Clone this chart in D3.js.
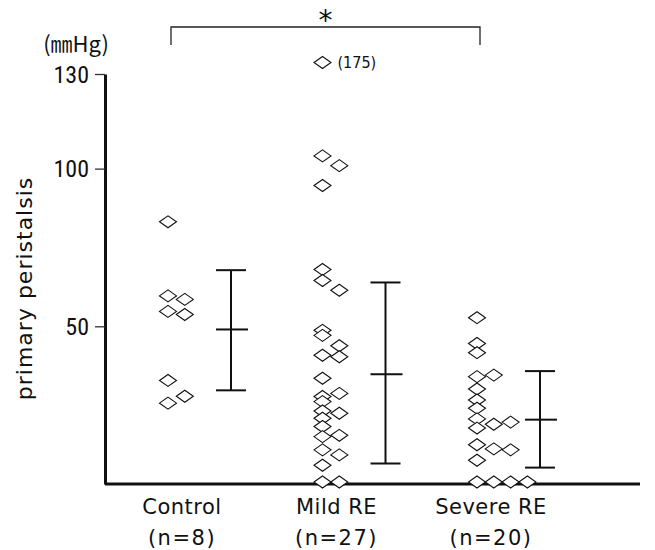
<!DOCTYPE html>
<html><head><meta charset="utf-8">
<script src="https://cdn.jsdelivr.net/npm/d3@7"></script>
<style>body{margin:0;background:#fff}svg{display:block}</style>
</head><body>
<svg id="c" width="655" height="550"></svg>
<script>
const groups = ["Control", "Mild RE", "Severe RE"];
const groupN = ["(n=8)", "(n=27)", "(n=20)"];
const yTicks = [50, 100, 130];

const controlValues = [82.5, 59, 57.9, 54.1, 53.1, 32.2, 27.2, 25];
const controlCols   = [0, 0, 1, 0, 1, 0, 1, 0];

const mildValues = [175, 103.4, 100.3, 94, 67.4, 63.9, 60.8, 48.1, 46.5, 43.2, 40.2, 39.7, 32.9, 28.1, 27.1, 25.5, 22.5, 21.8, 20.2, 17.6, 14.4, 14.8, 10.2, 8.6, 5.3, 0, 0];
const mildCols   = [0, 0, 1, 0, 0, 0, 1, 0, 0, 1, 0, 1, 0, 1, 0, 0, 0, 1, 0, 0, 0, 1, 0, 1, 0, 0, 1];

const severeValues = [52.1, 43.9, 41, 33.4, 33.9, 29.5, 26, 23.4, 20, 18.3, 19, 17.1, 11.8, 10.5, 10.2, 6.9, 0, 0, 0, 0];
const severeCols   = [0, 0, 0, 0, 1, 0, 0, 0, 0, 1, 2, 0, 0, 1, 2, 0, 0, 1, 2, 3];

// mean, upper, lower (mean ± SD)
const barMean  = [49, 34.8, 20.4];
const barUpper = [67.8, 63.9, 35.8];
const barLower = [29.7, 6.5, 5.2];

const axisBreakValue = 133;   // values above the axis top are drawn here with their value as label
const sigPair = ["Control", "Severe RE"];

const svg = d3.select("#c");
const y = d3.scaleLinear().domain([0, 130]).range([484, 74]);
const gx = d3.scalePoint().domain(groups).range([168, 477]);
const col = d3.scaleLinear().domain([0, 1]).range([0, 16.8]);
const barOffset = 63;
const axisX = 105;

const points = [];
[[controlValues, controlCols], [mildValues, mildCols], [severeValues, severeCols]].forEach(([vals, cols], gi) => {
  vals.forEach((v, i) => points.push({g: groups[gi], v, c: cols[i]}));
});

// x axis baseline
svg.append("line").attr("x1", axisX).attr("x2", 640).attr("y1", y(0)).attr("y2", y(0))
  .attr("stroke", "#111").attr("stroke-width", 3);

// y axis
const yAxis = d3.axisLeft(y).tickValues(yTicks).tickSize(10).tickSizeOuter(0).tickFormat(d3.format("d"));
const ga = svg.append("g").attr("transform", `translate(${axisX},0)`).call(yAxis);
ga.select(".domain").attr("stroke", "#111").attr("stroke-width", 3);
ga.selectAll(".tick line").attr("stroke", "#333").attr("stroke-width", 1.3);
ga.selectAll(".tick text").attr("font-family", "'Liberation Sans Narrow', 'Roboto Condensed', 'DejaVu Sans Condensed', sans-serif")
  .attr("font-size", 24).attr("fill", "#111").attr("x", -16).attr("dy", "0.34em");

// unit
svg.append("text").attr("x", 76).attr("y", 52).attr("text-anchor", "middle")
  .attr("font-family", "'Noto Sans CJK JP', sans-serif").attr("font-size", 22).attr("fill", "#111")
  .text("(㎜Hg)");

// y label
svg.append("text").attr("transform", `translate(32,${y(62)}) rotate(-90)`).attr("text-anchor", "middle")
  .attr("font-family", "'DejaVu Sans', sans-serif").attr("font-size", 22).attr("letter-spacing", 1).attr("fill", "#111")
  .text("primary peristalsis");

// error bars
const bars = svg.append("g").attr("stroke", "#111").attr("stroke-width", 2);
groups.forEach((g, i) => {
  const x = gx(g) + barOffset;
  bars.append("line").attr("x1", x).attr("x2", x).attr("y1", y(barUpper[i])).attr("y2", y(barLower[i]));
  bars.append("line").attr("x1", x - 15).attr("x2", x + 15).attr("y1", y(barUpper[i])).attr("y2", y(barUpper[i]));
  bars.append("line").attr("x1", x - 15).attr("x2", x + 15).attr("y1", y(barLower[i])).attr("y2", y(barLower[i]));
  bars.append("line").attr("x1", x - 15).attr("x2", x + 17).attr("y1", y(barMean[i])).attr("y2", y(barMean[i]));
});

// diamonds
const dw = 8.5, dh = 6;
svg.append("g").selectAll("path").data(points).join("path")
  .attr("transform", d => `translate(${gx(d.g) + col(d.c)},${y(Math.min(d.v, axisBreakValue)) - 2})`)
  .attr("d", `M${-dw},0L0,${-dh}L${dw},0L0,${dh}Z`)
  .attr("fill", "#fff").attr("stroke", "#111").attr("stroke-width", 1.1);

// label of off-scale value
points.filter(d => d.v > 130).forEach(d => {
  svg.append("text").attr("x", gx(d.g) + col(d.c) + 15).attr("y", y(axisBreakValue) - 2).attr("dy", "0.35em")
    .attr("font-family", "'Liberation Sans Narrow', 'DejaVu Sans Condensed', sans-serif").attr("font-size", 16).attr("fill", "#111")
    .text(`(${d.v})`);
});

// category labels
const lab = svg.append("g").attr("font-family", "'DejaVu Sans', sans-serif").attr("font-size", 21).attr("fill", "#111").attr("text-anchor", "middle");
groups.forEach((g, i) => {
  const x = gx(g) + 14;
  lab.append("text").attr("x", x).attr("y", 514).attr("letter-spacing", 0.5).text(g);
  lab.append("text").attr("x", x).attr("y", 545).attr("letter-spacing", 1.5).text(groupN[i]);
});

// significance bracket
const bx1 = gx(sigPair[0]) + 3, bx2 = gx(sigPair[1]) + 3;
svg.append("path").attr("d", `M${bx1},45V27H${bx2}V45`).attr("fill", "none").attr("stroke", "#222").attr("stroke-width", 1.3);
svg.append("text").attr("x", (bx1 + bx2) / 2).attr("y", 30).attr("text-anchor", "middle")
  .attr("font-family", "'DejaVu Sans', sans-serif").attr("font-size", 28).attr("fill", "#111").text("*");
</script>
</body></html>
